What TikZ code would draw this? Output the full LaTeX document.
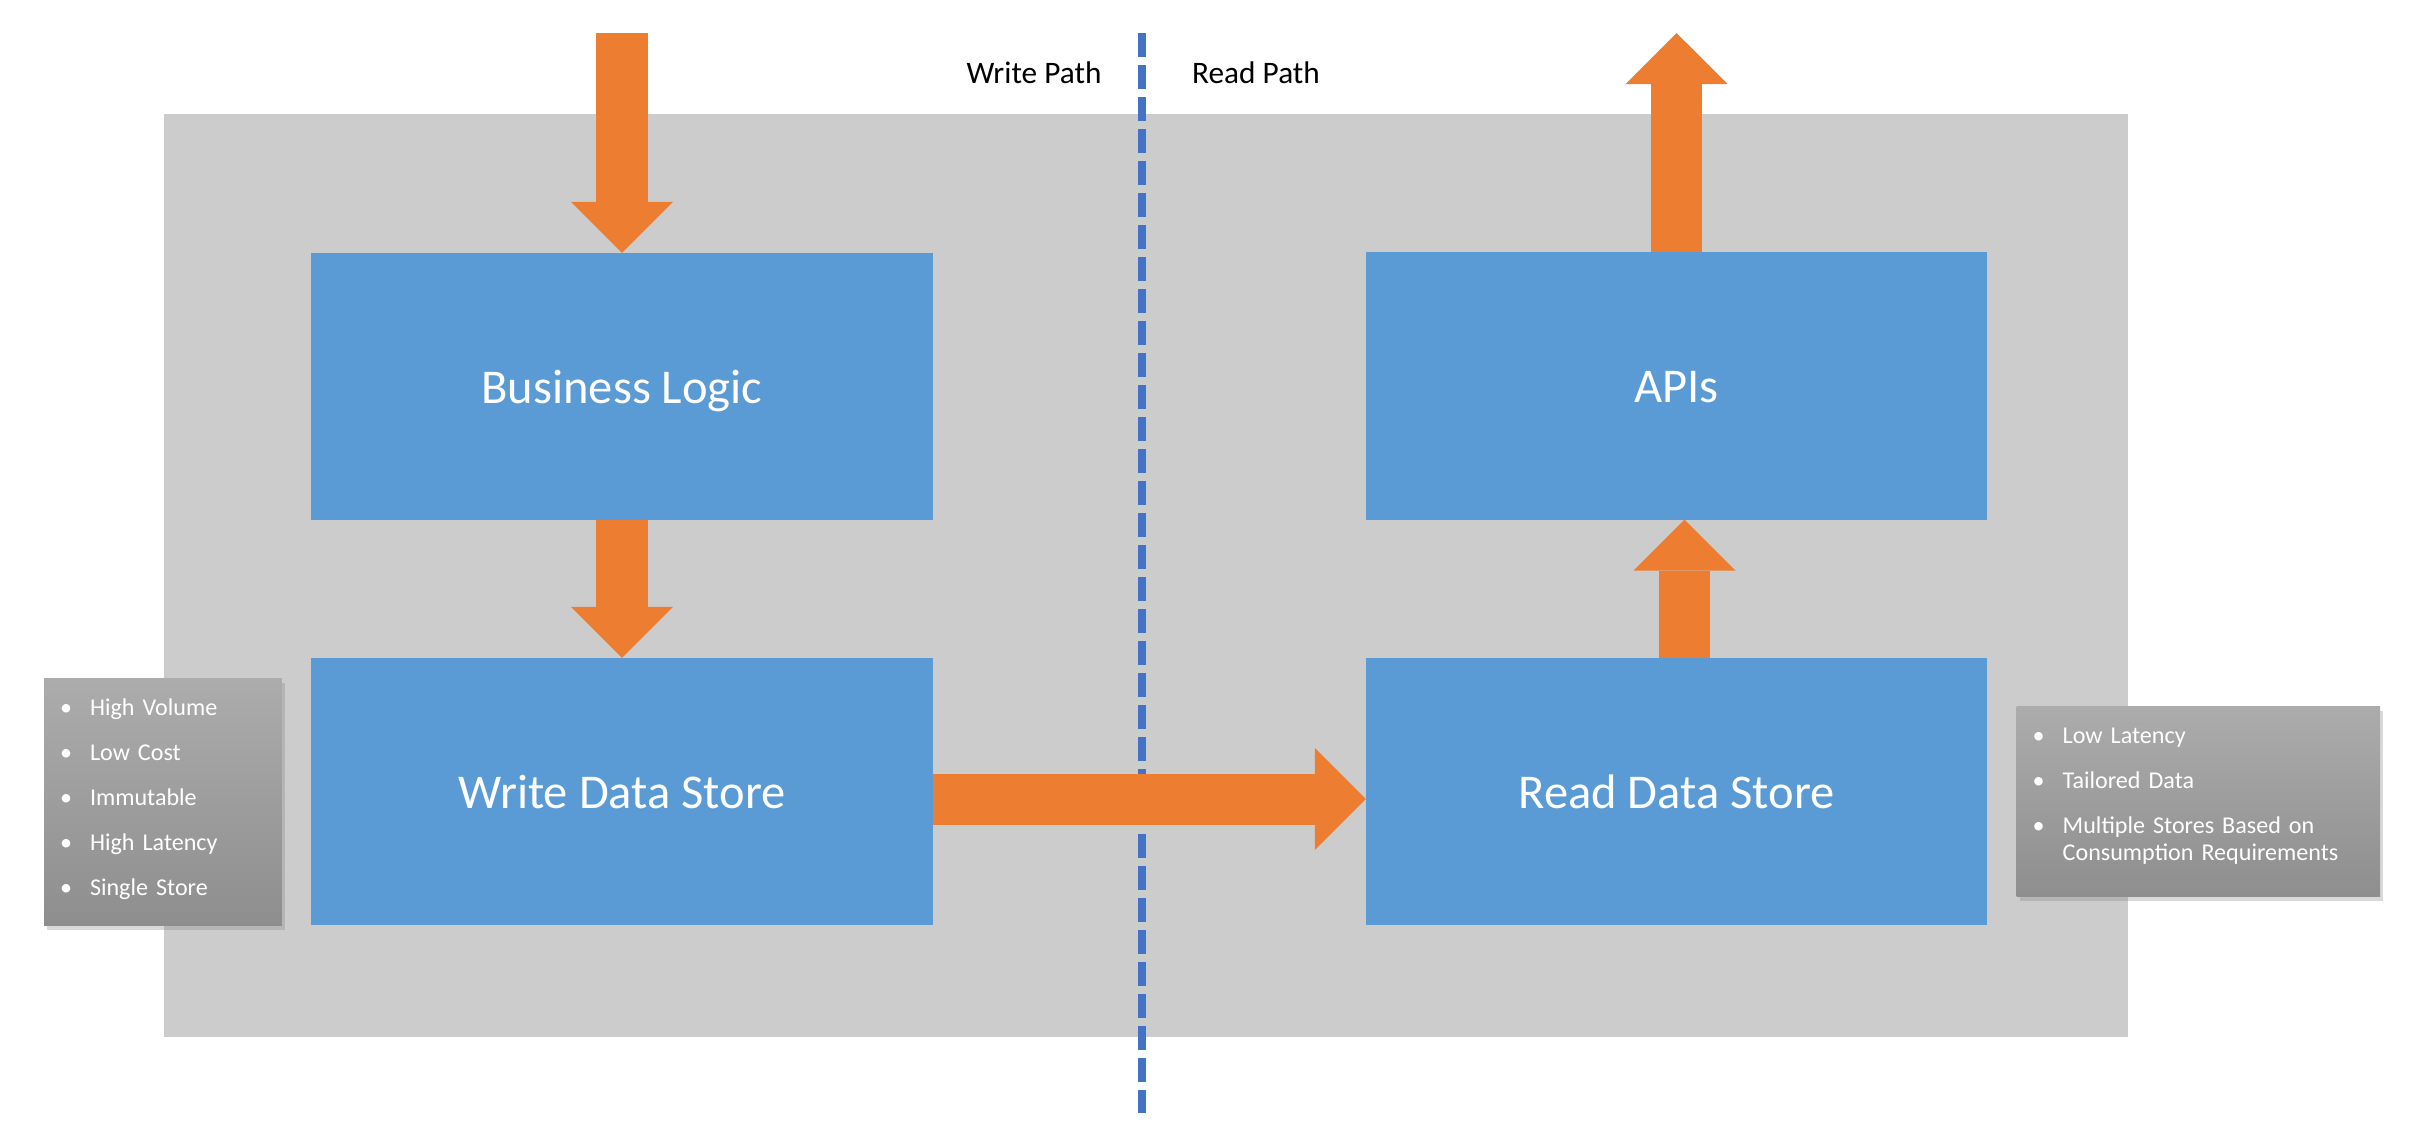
\documentclass[tikz,border=0pt]{standalone}
\usepackage{fontspec}
\setmainfont{Carlito}
\usetikzlibrary{arrows.meta,shadows}
\definecolor{bgray}{RGB}{204,204,204}
\definecolor{boxblue}{RGB}{91,155,213}
\definecolor{arrorange}{RGB}{237,125,49}
\definecolor{pathblue}{RGB}{68,114,196}
\definecolor{notetop}{RGB}{172,172,172}
\definecolor{notebot}{RGB}{142,142,142}

\begin{document}
\begin{tikzpicture}[x=0.01cm, y=-0.01cm,
	stage/.style={fill=boxblue, text=white, minimum width=6.21cm, minimum height=2.67cm, inner sep=0pt, outer sep=0pt, font=\fontsize{13.8}{16}\selectfont, text height=1em, text depth=0.06em},
	blockarrow/.style={draw=arrorange, line width=0.51cm, -{Triangle[length=0.51cm, width=1.02cm, line width=0pt]}},
	note/.style={top color=notetop, bottom color=notebot, text=white, anchor=north west, inner xsep=0.16cm, inner ysep=0pt, outer sep=0pt, align=left, text height=0.37cm, font=\fontsize{6.85}{7.9}\selectfont, drop shadow={shadow xshift=0.03cm, shadow yshift=-0.045cm, opacity=0.3}},
	pathlabel/.style={anchor=base, inner sep=0pt, font=\fontsize{8.9}{10}\selectfont}]
		%%%%% START %%%%%
		\useasboundingbox (0, 0) rectangle (2420, 1126);
		
		\fill[bgray] (164, 114) rectangle (2127.5, 1036.5);
		\draw[pathblue, line width=0.08cm, dash pattern=on 0.24cm off 0.08cm] (1142, 33) -- (1142, 1112.7);
		
		\node[pathlabel] (wlabel) at (1034, 83.5) {Write Path};
		\node[pathlabel] (rlabel) at (1256, 83.5) {Read Path};
		
		\node[stage] (logic) at (622, 386.5) {Business Logic};
		\node[stage] (wstore) at (622, 791.5) {Write Data Store};
		\node[stage] (apis) at (1676.5, 386) {APIs};
		\node[stage] (rstore) at (1676.5, 791.5) {Read Data Store};
		
		\coordinate (input) at (622, 33);
		\coordinate (output) at (1676.5, 33);
		\draw[blockarrow] (input) -- (logic.north);
		\draw[blockarrow] (logic.south) -- (wstore.north);
		\draw[blockarrow] ([yshift=-0.075cm]wstore.east) -- ([yshift=-0.075cm]rstore.west);
		\draw[blockarrow] ([xshift=0.08cm]rstore.north) -- ([xshift=0.08cm]apis.south);
		\draw[blockarrow] (apis.north) -- (output);
		
		\node[note, text width=2.057cm, text depth=2.097cm] (wnote) at (44, 678.3) {%
			\begin{tabular}[t]{@{}p{0.3cm}@{}l@{}}
				\textbullet & High Volume\\[4.9pt]
				\textbullet & Low Cost\\[4.9pt]
				\textbullet & Immutable\\[4.9pt]
				\textbullet & High Latency\\[4.9pt]
				\textbullet & Single Store
			\end{tabular}};
		\node[note, text width=3.313cm, text depth=1.537cm] (rnote) at (2016.7, 706) {%
			\begin{tabular}[t]{@{}p{0.3cm}@{}l@{}}
				\textbullet & Low Latency\\[4.9pt]
				\textbullet & Tailored Data\\[4.9pt]
				\textbullet & Multiple Stores Based on\\
				& Consumption Requirements
			\end{tabular}};
		%%%%% END %%%%%
\end{tikzpicture}
\end{document}
